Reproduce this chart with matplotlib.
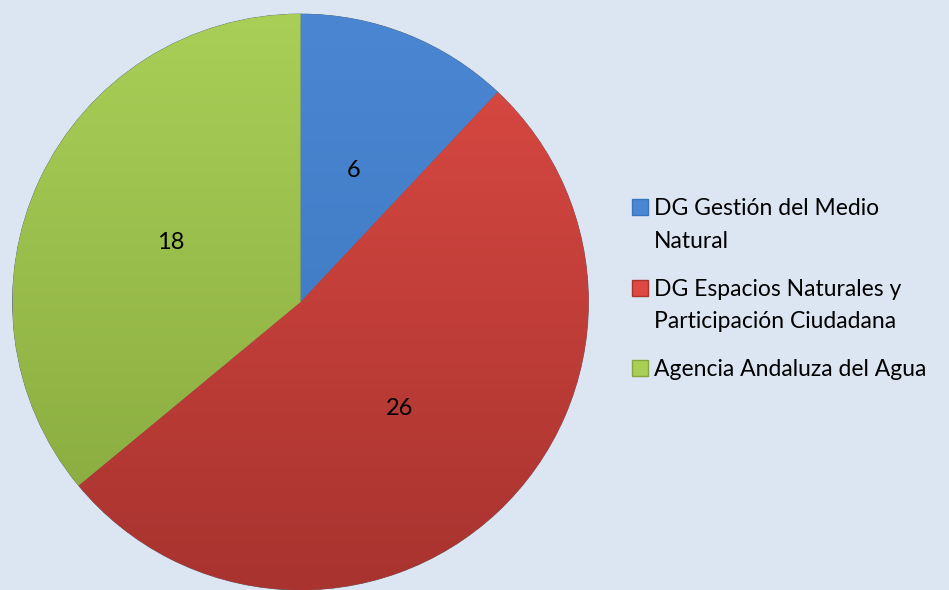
import numpy as np
import matplotlib.pyplot as plt
from matplotlib.colors import LinearSegmentedColormap
from matplotlib.patches import Rectangle

# data
labels = ['DG Gestión del Medio\nNatural',
          'DG Espacios Naturales y\nParticipación Ciudadana',
          'Agencia Andaluza del Agua']
values = [6, 26, 18]
top_colors = ['#4a86d2', '#dc4a43', '#a9cf57']
bot_colors = ['#3a74bd', '#a8332f', '#86a73d']

bg = '#dce6f2'
W, H = 949, 590
cx, cy, r = 300.5, 302, 288

plt.rcParams['font.family'] = ['Lato', 'DejaVu Sans']

fig = plt.figure(figsize=(W / 100, H / 100), dpi=100)
fig.patch.set_facecolor(bg)

ax = fig.add_axes([(cx - r) / W, (H - cy - r) / H, 2 * r / W, 2 * r / H])
ax.set_facecolor(bg)
ax.axis('off')

total = sum(values)
wedges, texts, autotexts = ax.pie(
    values, colors=top_colors, startangle=90, counterclock=False,
    autopct=lambda p: '%d' % round(p * total / 100), pctdistance=0.5,
    wedgeprops=dict(edgecolor='#55606a', linewidth=0.5),
    textprops=dict(fontsize=17, color='black'))
ax.set_xlim(-1, 1)
ax.set_ylim(-1, 1)
ax.set_aspect('equal')

# vertical gradient on each slice
grad = np.linspace(1, 0, 256).reshape(-1, 1)
for w, c1, c2 in zip(wedges, top_colors, bot_colors):
    cm = LinearSegmentedColormap.from_list('g', [c2, c1])
    im = ax.imshow(grad, cmap=cm, extent=[-1, 1, -1, 1], aspect='auto',
                   zorder=1.5, origin='upper')
    im.set_clip_path(w)
for t in autotexts:
    t.set_zorder(5)
    t.set_va('center_baseline')

# legend, marker beside the first line of each entry
line_h = 32.5
entry_gap = 48
y0 = 207
for lab, c1, c2 in zip(labels, top_colors, bot_colors):
    fig.patches.append(Rectangle((632 / W, 1 - (y0 + 8) / H), 16 / W, 16 / H,
                                 transform=fig.transFigure, facecolor=c1,
                                 edgecolor=c2, linewidth=1))
    y = y0
    for line in lab.split('\n'):
        fig.text(654 / W, 1 - (y + 8) / H, line, fontsize=16.5,
                 va='baseline', ha='left')
        y += line_h
    y0 = y - line_h + entry_gap

fig.savefig('out.png', dpi=100, facecolor=bg)
